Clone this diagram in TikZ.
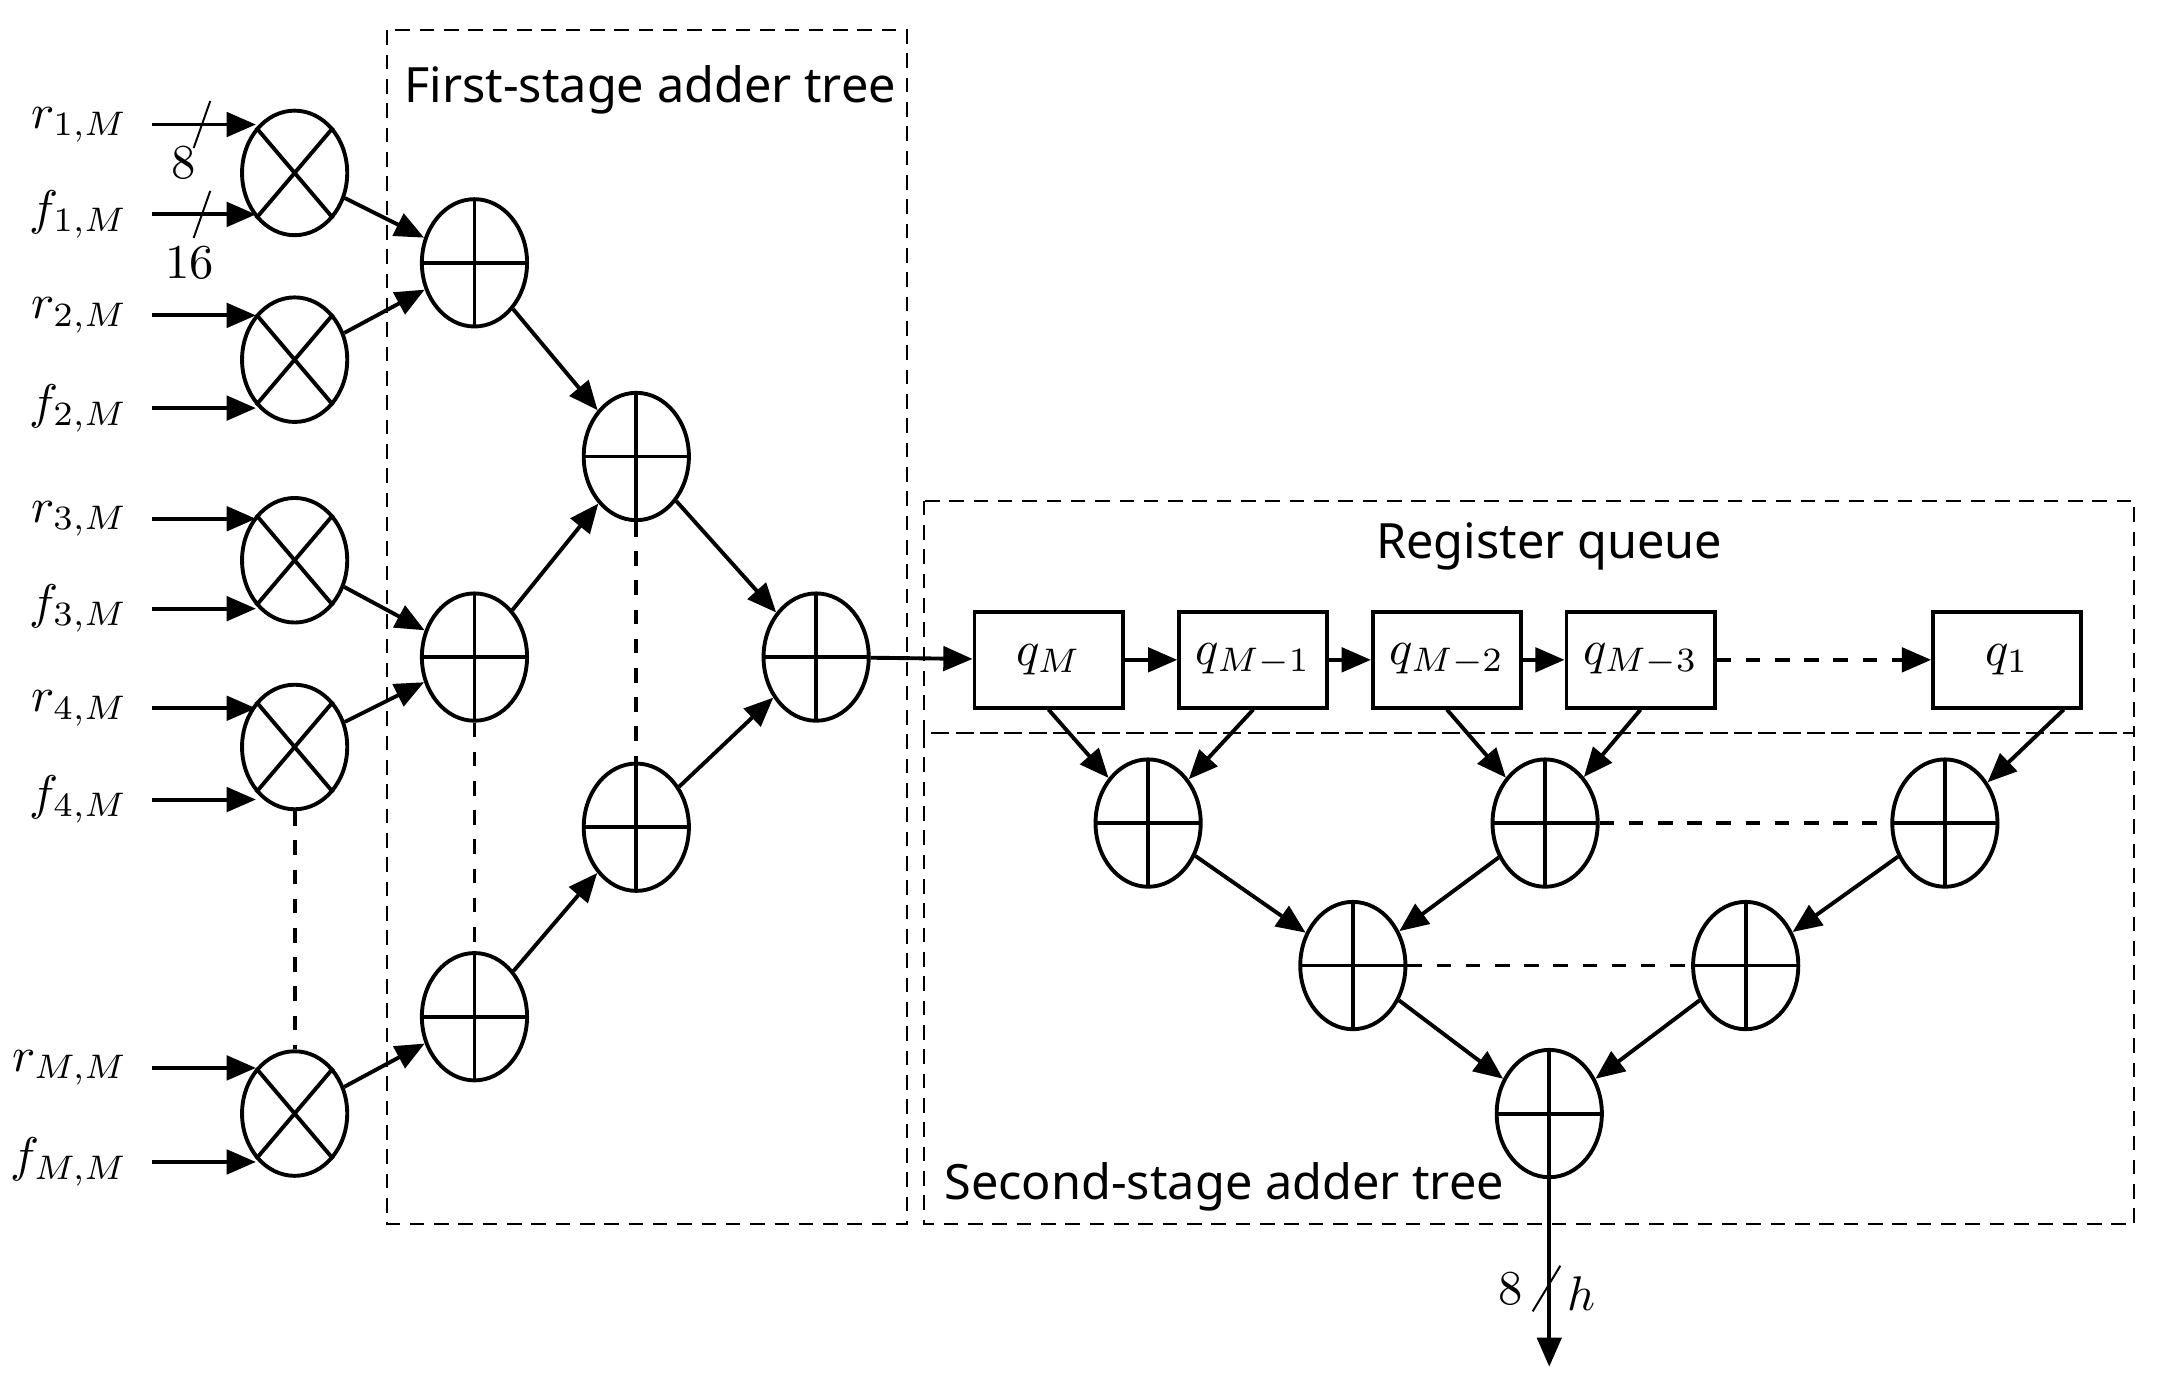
\documentclass[tikz,border=0pt]{standalone}
\usepackage{fontspec}
\newfontfamily\titlefont{Noto Sans}
\usetikzlibrary{shapes.geometric,arrows.meta,positioning}

\begin{document}
\begin{tikzpicture}[
        x=0.01cm, y=-0.01cm,
        add/.style={ellipse, draw, thick, minimum width=0.76cm, minimum height=0.92cm, inner sep=0pt,
            path picture={\draw[thick] (path picture bounding box.north) -- (path picture bounding box.south)
                (path picture bounding box.west) -- (path picture bounding box.east);}},
        mul/.style={ellipse, draw, thick, minimum width=0.76cm, minimum height=0.9cm, inner sep=0pt},
        reg/.style={rectangle, draw, thick, minimum width=1.07cm, minimum height=0.69cm, inner sep=0pt, font=\normalsize},
        frame/.style={draw, densely dashed, thin},
        title/.style={font=\titlefont\normalsize},
        arrow/.style={-{Triangle[length=6pt,width=5pt]}, thick},
        inlab/.style={left, font=\normalsize, inner sep=2pt}
    ]
    \useasboundingbox (0,0) rectangle (1568,1008);

    % Frames
    \draw[frame] (280,22) rectangle (656,885);
    \draw[frame] (668,362) rectangle (1543,530);
    \draw[frame] (668,530) rectangle (1543,885);
    \node[title] (t1) at (470,65) {First-stage adder tree};
    \node[title] (t2) at (1120,395) {Register queue};
    \node[title] (t3) at (885,858) {Second-stage adder tree};

    % Multipliers
    \foreach \n/\y in {1/125, 2/260, 3/405, 4/540, M/805} {
        \node[mul] (m\n) at (213,\y) {};
        \draw[thick] (m\n.north west) -- (m\n.south east) (m\n.north east) -- (m\n.south west);
    }

    % Inputs
    \foreach \n/\ya/\yb in {1/90/155, 2/228/295, 3/375/440, 4/512/578, M/772/840} {
        \coordinate (r\n) at (110,\ya);
        \coordinate (f\n) at (110,\yb);
        \draw[arrow] (r\n) -- ++(75,0);
        \draw[arrow] (f\n) -- ++(75,0);
        \node[inlab] at ([xshift=-0.1cm]r\n) {$r_{\n,M}$};
        \node[inlab] at ([xshift=-0.1cm]f\n) {$f_{\n,M}$};
    }
    \draw (140,107) -- (152,73);
    \draw (140,172) -- (152,138);
    \node (w8) at (133,118) {8};
    \node (w16) at (137,190) {16};
    \draw[thick, dashed] (m4) -- (mM);

    % First-stage adders
    \node[add] (a1) at (343,190) {};
    \node[add] (a2) at (343,475) {};
    \node[add] (a3) at (343,735) {};
    \node[add] (b1) at (460,330) {};
    \node[add] (b2) at (460,598) {};
    \node[add] (c1) at (590,475) {};

    \draw[arrow] (m1) -- (a1);
    \draw[arrow] (m2) -- (a1);
    \draw[arrow] (m3) -- (a2);
    \draw[arrow] (m4) -- (a2);
    \draw[arrow] (mM) -- (a3);
    \draw[arrow] (a1) -- (b1);
    \draw[arrow] (a2) -- (b1);
    \draw[arrow] (a3) -- (b2);
    \draw[arrow] (b1) -- (c1);
    \draw[arrow] (b2) -- (c1);
    \draw[thick, dashed] (a2) -- (a3);
    \draw[thick, dashed] (b1) -- (b2);

    % Register queue
    \node[reg] (qM) at (758,477) {$q_M$};
    \node[reg] (qM1) at (906,477) {$q_{M-1}$};
    \node[reg] (qM2) at (1046,477) {$q_{M-2}$};
    \node[reg] (qM3) at (1186,477) {$q_{M-3}$};
    \node[reg] (q1) at (1451,477) {$q_1$};
    \draw[arrow] (c1) -- (qM);
    \draw[arrow] (qM) -- (qM1);
    \draw[arrow] (qM1) -- (qM2);
    \draw[arrow] (qM2) -- (qM3);
    \draw[arrow, dashed] (qM3) -- (q1);

    % Second-stage adders
    \node[add] (s1) at (830,595) {};
    \node[add] (s2) at (1117,595) {};
    \node[add] (s3) at (1406,595) {};
    \node[add] (u1) at (978,698) {};
    \node[add] (u2) at (1262,698) {};
    \node[add] (v1) at (1120,805) {};

    \draw[arrow] (qM.south) -- (s1);
    \draw[arrow] (qM1.south) -- (s1);
    \draw[arrow] (qM2.south) -- (s2);
    \draw[arrow] (qM3.south) -- (s2);
    \draw[arrow] (q1.south east) ++(-14,0) coordinate (q1o) (q1o) -- (s3);
    \draw[arrow] (s1) -- (u1);
    \draw[arrow] (s2) -- (u1);
    \draw[arrow] (s3) -- (u2);
    \draw[arrow] (u1) -- (v1);
    \draw[arrow] (u2) -- (v1);
    \draw[thick, dashed] (s2) -- (s3);
    \draw[thick, dashed] (u1) -- (u2);

    % Output
    \coordinate (out) at (1120,988);
    \draw[arrow] (v1) -- (out);
    \draw (1108,948) -- (1128,915);
    \node (w8o) at (1092,932) {8};
    \node (hlab) at (1143,935) {$h$};
\end{tikzpicture}
\end{document}
